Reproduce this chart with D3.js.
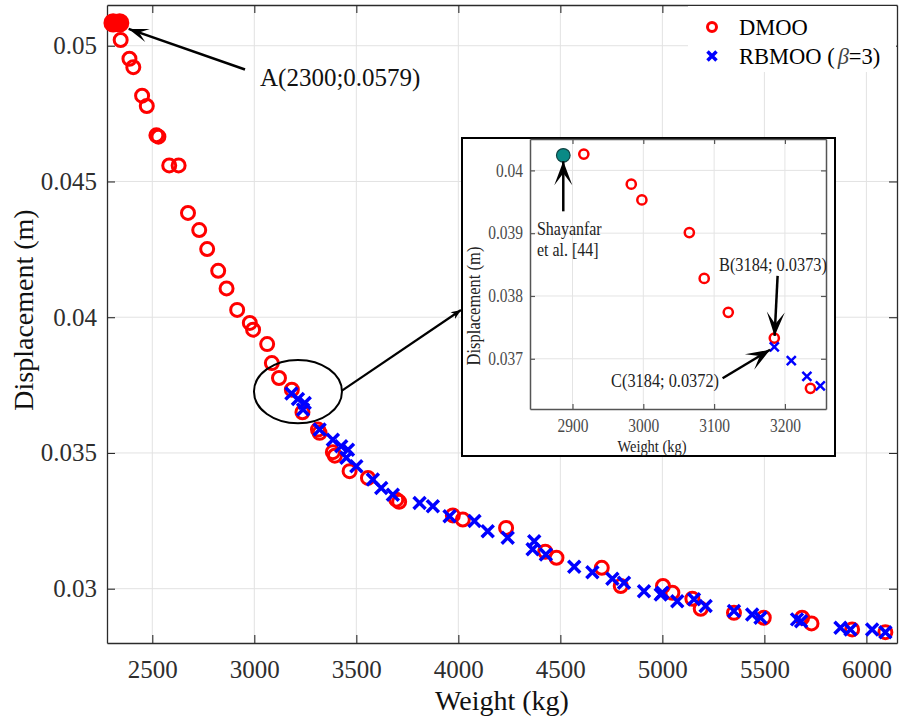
<!DOCTYPE html>
<html><head><meta charset="utf-8">
<script src="https://cdn.jsdelivr.net/npm/d3@7"></script>
<style>body{margin:0;background:#fff} svg{display:block}</style>
</head><body>
<script>
// ---------------- data ----------------
const dmooWeight = [2345,2388,2407,2450,2473,2520,2530,2583,2629,2675,2730,2769,2823,2864,2916,2978,2994,3063,3086,3121,3184,3236,3312,3320,3385,3395,3467,3557,3696,3710,3973,4022,4234,4426,4481,4703,4796,5003,5049,5147,5188,5351,5497,5685,5731,5930,6093];
const dmooDisp = [0.05021,0.04952,0.04921,0.04816,0.04778,0.0467,0.04665,0.04559,0.04559,0.04384,0.04321,0.04251,0.04171,0.04106,0.04027,0.03979,0.03954,0.03901,0.03831,0.03776,0.03733,0.03650,0.03586,0.03574,0.03503,0.0349,0.03433,0.03408,0.03328,0.0332,0.0327,0.03255,0.03224,0.03136,0.03114,0.03077,0.0301,0.0301,0.02985,0.02963,0.02926,0.02911,0.02893,0.02893,0.02872,0.0285,0.0284];
const rbmooWeight = [3182,3214,3239,3247,3320,3385,3426,3451,3459,3500,3581,3622,3679,3810,3875,3957,4079,4144,4242,4364,4372,4429,4568,4657,4755,4812,4910,4992,5000,5073,5155,5212,5351,5440,5481,5660,5680,5873,5922,6028,6093];
const rbmooDisp = [0.03719,0.03699,0.0366,0.03684,0.03586,0.03549,0.03525,0.03482,0.03512,0.03451,0.03402,0.03371,0.03346,0.03316,0.03304,0.03267,0.03249,0.03212,0.03188,0.03145,0.03175,0.03126,0.03081,0.03061,0.03037,0.03022,0.02991,0.02979,0.02985,0.02954,0.02961,0.02936,0.02918,0.02905,0.02893,0.02887,0.0288,0.02856,0.0285,0.0285,0.0284];
const pointAWeight = [2308, 2340];
const pointADisp = [0.05084, 0.05084];

const insetDmooWeight = [2916,2983,2998,3065,3086,3120,3185,3236];
const insetDmooDisp = [0.04026,0.03978,0.03953,0.03901,0.03828,0.03774,0.03733,0.03653];
const insetRbmooWeight = [3185,3209,3231,3250];
const insetRbmooDisp = [0.03719,0.03697,0.03672,0.03657];
const shayanfarWeight = [2887];
const shayanfarDisp = [0.04024];

const xTicks = [2500,3000,3500,4000,4500,5000,5500,6000];
const xTickLabels = ["2500","3000","3500","4000","4500","5000","5500","6000"];
const yTicks = [0.03,0.035,0.04,0.045,0.05];
const yTickLabels = ["0.03","0.035","0.04","0.045","0.05"];
const insetXTicks = [2900,3000,3100,3200];
const insetXTickLabels = ["2900","3000","3100","3200"];
const insetYTicks = [0.037,0.038,0.039,0.04];
const insetYTickLabels = ["0.037","0.038","0.039","0.04"];
const seriesNames = ["DMOO","RBMOO ("];

// ---------------- setup ----------------
const serif = "'Liberation Serif','Times New Roman',serif";
const svg = d3.select("body").append("svg").attr("width",899).attr("height",722)
  .style("font-family",serif);
const defs = svg.append("defs");
function arrowMarker(id, len, wid, notch){
  defs.append("marker").attr("id",id).attr("markerUnits","userSpaceOnUse")
    .attr("viewBox",`${-len-1} ${-wid/2-1} ${len+2} ${wid+2}`)
    .attr("refX",0).attr("refY",0)
    .attr("markerWidth",len+2).attr("markerHeight",wid+2).attr("orient","auto")
    .append("path").attr("d",`M0,0 L${-len},${-wid/2} L${-len+notch},0 L${-len},${wid/2} Z`).attr("fill","#000");
}
arrowMarker("headBig",20,14,9);
arrowMarker("headSmall",10,8,3);
arrowMarker("headInset",24,18,12);

const x = d3.scaleLinear().domain([2278,6150]).range([107,897]);
const y = d3.scaleLinear().domain([0.028,0.0515]).range([643,5]);
const [L,R] = x.range(), [B,T] = y.range();

// grid
const grid = svg.append("g").attr("stroke","#e2e2e2").attr("stroke-width",1);
grid.selectAll("line.v").data(xTicks).join("line").attr("class","v")
  .attr("x1",d=>x(d)).attr("x2",d=>x(d)).attr("y1",T).attr("y2",B);
grid.selectAll("line.h").data(yTicks).join("line").attr("class","h")
  .attr("y1",d=>y(d)).attr("y2",d=>y(d)).attr("x1",L).attr("x2",R);

// axes
const axCol = "#2b2b2b";
function styleAxis(g, fs){
  g.select(".domain").attr("stroke",axCol).attr("stroke-width",1.3);
  g.selectAll(".tick line").attr("stroke",axCol).attr("stroke-width",1.1);
  g.selectAll(".tick text").attr("fill","#2e2e2e").style("font-size",fs+"px").style("font-family",serif);
}
const xAxis = svg.append("g").attr("transform",`translate(0,${B})`)
  .call(d3.axisBottom(x).tickValues(xTicks).tickFormat((d,i)=>xTickLabels[i]).tickSizeInner(-8).tickSizeOuter(0).tickPadding(17));
styleAxis(xAxis,25);
const yAxis = svg.append("g").attr("transform",`translate(${L},0)`)
  .call(d3.axisLeft(y).tickValues(yTicks).tickFormat((d,i)=>yTickLabels[i]).tickSizeInner(-8).tickSizeOuter(0).tickPadding(10));
styleAxis(yAxis,25);
const xAxisT = svg.append("g").attr("transform",`translate(0,${T})`)
  .call(d3.axisTop(x).tickValues(xTicks).tickFormat("").tickSizeInner(-8).tickSizeOuter(0));
styleAxis(xAxisT,25);
const yAxisR = svg.append("g").attr("transform",`translate(${R},0)`)
  .call(d3.axisRight(y).tickValues(yTicks).tickFormat("").tickSizeInner(-8).tickSizeOuter(0));
styleAxis(yAxisR,25);

// axis titles
svg.append("text").attr("x",(L+R)/2).attr("y",710).attr("text-anchor","middle")
  .style("font-size","28px").attr("fill","#111").text("Weight (kg)");
svg.append("text").attr("transform",`translate(33,${(T+B)/2 - 14}) rotate(-90)`).attr("text-anchor","middle")
  .style("font-size","28px").attr("fill","#111").text("Displacement (m)");

// data marks
const crossPath = s => `M${-s},${-s}L${s},${s}M${-s},${s}L${s},${-s}`;
svg.append("g").selectAll("circle").data(dmooWeight.map((w,i)=>[w,dmooDisp[i]])).join("circle")
  .attr("cx",d=>x(d[0])).attr("cy",d=>y(d[1])).attr("r",6.5)
  .attr("fill","none").attr("stroke","#ff0000").attr("stroke-width",3);
svg.append("g").selectAll("path").data(rbmooWeight.map((w,i)=>[w,rbmooDisp[i]])).join("path")
  .attr("transform",d=>`translate(${x(d[0])},${y(d[1])})`).attr("d",crossPath(6))
  .attr("stroke","#0000ff").attr("stroke-width",3.5).attr("fill","none");
svg.append("g").selectAll("circle").data(pointAWeight.map((w,i)=>[w,pointADisp[i]])).join("circle")
  .attr("cx",d=>x(d[0])).attr("cy",d=>y(d[1])).attr("r",9.7).attr("fill","#ff0000");

// annotation A
const aTipX = x(pointAWeight[1]) + 9, aTipY = y(pointADisp[1]) + 6;
svg.append("line").attr("x1",245).attr("y1",69.5).attr("x2",aTipX).attr("y2",aTipY)
  .attr("stroke","#000").attr("stroke-width",2.5).attr("marker-end","url(#headBig)");
svg.append("text").attr("x",260).attr("y",86).style("font-size","25px").attr("fill","#111")
  .text("A(2300;0.0579)");

// ellipse + arrow to inset
const ex = x(3214), ey = y(0.03726);
svg.append("ellipse").attr("cx",ex).attr("cy",ey).attr("rx",44).attr("ry",31.7)
  .attr("fill","none").attr("stroke","#000").attr("stroke-width",2);
svg.append("line").attr("x1",ex+44).attr("y1",ey-1).attr("x2",461).attr("y2",310)
  .attr("stroke","#000").attr("stroke-width",2.2).attr("marker-end","url(#headSmall)");

// legend
const lg = svg.append("g");
lg.append("rect").attr("x",688).attr("y",6).attr("width",208).attr("height",66).attr("fill","#fff");
lg.append("circle").attr("cx",712).attr("cy",27).attr("r",4.5).attr("fill","none").attr("stroke","#ff0000").attr("stroke-width",3);
lg.append("path").attr("transform","translate(712,56)").attr("d",crossPath(4.5)).attr("stroke","#0000ff").attr("stroke-width",3.5);
lg.append("text").attr("x",739).attr("y",35).style("font-size","22.5px").attr("fill","#000").text(seriesNames[0]);
const t2 = lg.append("text").attr("x",739).attr("y",64).style("font-size","22.5px").attr("fill","#000");
t2.append("tspan").text(seriesNames[1]);
t2.append("tspan").attr("dx",3).style("font-style","italic").attr("fill","#444").text("β");
t2.append("tspan").text("=3)");

// ---------------- inset ----------------
const inset = svg.append("g");
inset.append("rect").attr("x",462).attr("y",138).attr("width",373).attr("height",318)
  .attr("fill","#fff").attr("stroke","#000").attr("stroke-width",2);
const ix = d3.scaleLinear().domain([2840,3258]).range([530,826]);
const iy = d3.scaleLinear().domain([0.0362,0.0405]).range([409,139]);
const [iL,iR] = ix.range(), [iB,iT] = iy.range();
const ig = inset.append("g").attr("stroke","#e4e4e4").attr("stroke-width",1);
ig.selectAll("line.v").data(insetXTicks).join("line").attr("x1",d=>ix(d)).attr("x2",d=>ix(d)).attr("y1",iT).attr("y2",iB);
ig.selectAll("line.h").data(insetYTicks).join("line").attr("y1",d=>iy(d)).attr("y2",d=>iy(d)).attr("x1",iL).attr("x2",iR);
const iCol = "#555";
function styleInset(g){
  g.select(".domain").attr("stroke",iCol).attr("stroke-width",1.5);
  g.selectAll(".tick line").attr("stroke",iCol).attr("stroke-width",1.2);
  g.selectAll(".tick text").attr("fill","#4a4a4a").style("font-size","18px").style("font-family",serif)
    .attr("transform","scale(0.86,1)");
}
const ixa = inset.append("g").attr("transform",`translate(0,${iB})`)
  .call(d3.axisBottom(ix).tickValues(insetXTicks).tickFormat((d,i)=>insetXTickLabels[i]).tickSizeInner(-5).tickSizeOuter(0).tickPadding(10));
styleInset(ixa);
const iya = inset.append("g").attr("transform",`translate(${iL},0)`)
  .call(d3.axisLeft(iy).tickValues(insetYTicks).tickFormat((d,i)=>insetYTickLabels[i]).tickSizeInner(-5).tickSizeOuter(0).tickPadding(8.2));
styleInset(iya);
const ixt = inset.append("g").attr("transform",`translate(0,${iT})`)
  .call(d3.axisTop(ix).tickValues(insetXTicks).tickFormat("").tickSizeInner(-5).tickSizeOuter(0));
styleInset(ixt);
const iyr = inset.append("g").attr("transform",`translate(${iR},0)`)
  .call(d3.axisRight(iy).tickValues(insetYTicks).tickFormat("").tickSizeInner(-5).tickSizeOuter(0));
styleInset(iyr);

inset.append("g").attr("transform","translate(652,452) scale(0.85,1)")
  .append("text").attr("text-anchor","middle").style("font-size","17px").attr("fill","#222").text("Weight (kg)");
inset.append("g").attr("transform","translate(480,306) rotate(-90) scale(0.87,1)")
  .append("text").attr("text-anchor","middle").style("font-size","19px").attr("fill","#222").text("Displacement (m)");

inset.append("g").selectAll("circle").data(insetDmooWeight.map((w,i)=>[w,insetDmooDisp[i]])).join("circle")
  .attr("cx",d=>ix(d[0])).attr("cy",d=>iy(d[1])).attr("r",4.6)
  .attr("fill","none").attr("stroke","#ff0000").attr("stroke-width",2.5);
inset.append("g").selectAll("path").data(insetRbmooWeight.map((w,i)=>[w,insetRbmooDisp[i]])).join("path")
  .attr("transform",d=>`translate(${ix(d[0])},${iy(d[1])})`).attr("d",crossPath(4.5))
  .attr("stroke","#0000ff").attr("stroke-width",2.5).attr("fill","none");
inset.append("g").selectAll("circle").data(shayanfarWeight.map((w,i)=>[w,shayanfarDisp[i]])).join("circle")
  .attr("cx",d=>ix(d[0])).attr("cy",d=>iy(d[1])).attr("r",6.8)
  .attr("fill","#0a8a86").attr("stroke","#114444").attr("stroke-width",1.2);

// inset annotations
const sx = ix(shayanfarWeight[0]), sy = iy(shayanfarDisp[0]);
inset.append("line").attr("x1",sx).attr("y1",sy+56).attr("x2",sx).attr("y2",sy+6)
  .attr("stroke","#000").attr("stroke-width",2.5).attr("marker-end","url(#headInset)");
inset.append("g").attr("transform","translate(537,235) scale(0.84,1)")
  .append("text").style("font-size","19px").attr("fill","#222").text("Shayanfar");
inset.append("g").attr("transform","translate(537,256) scale(0.84,1)")
  .append("text").style("font-size","19px").attr("fill","#222").text("et al. [44]");

const bx = ix(3184), by = iy(0.0373), cy = iy(0.0372);
inset.append("line").attr("x1",bx+4).attr("y1",by-64).attr("x2",bx+1).attr("y2",by-4)
  .attr("stroke","#000").attr("stroke-width",2.5).attr("marker-end","url(#headInset)");
inset.append("g").attr("transform","translate(719,271) scale(0.86,1)")
  .append("text").style("font-size","19px").attr("fill","#222").text("B(3184; 0.0373)");
inset.append("line").attr("x1",bx-51).attr("y1",cy+32).attr("x2",bx-3.5).attr("y2",cy+3.5)
  .attr("stroke","#000").attr("stroke-width",2.5).attr("marker-end","url(#headInset)");
inset.append("g").attr("transform","translate(719,387) scale(0.86,1)")
  .append("text").attr("text-anchor","end").style("font-size","19px").attr("fill","#222").text("C(3184; 0.0372)");
</script>
</body></html>
